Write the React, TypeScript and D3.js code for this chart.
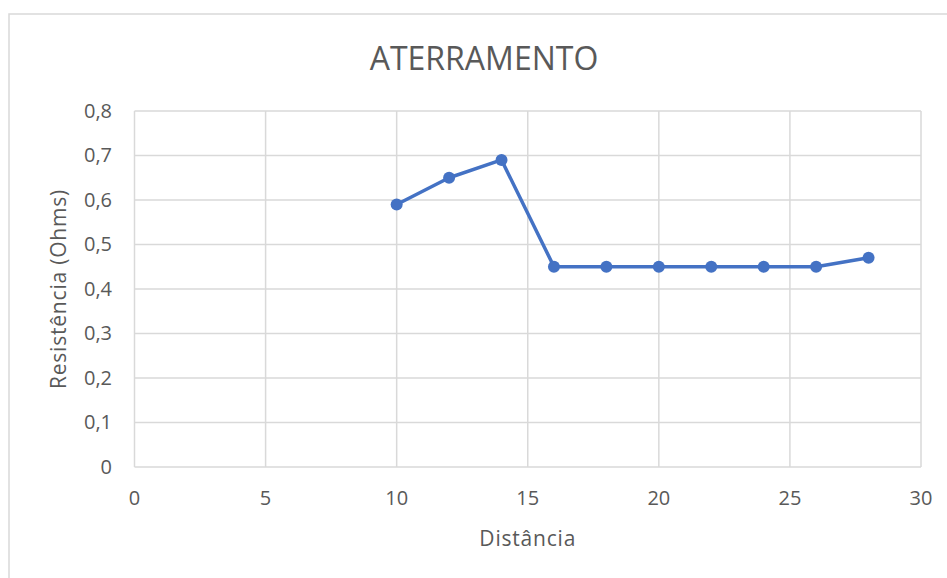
import React from "react";
import * as d3 from "d3";

const distances = [10, 12, 14, 16, 18, 20, 22, 24, 26, 28];
const resistances = [0.59, 0.65, 0.69, 0.45, 0.45, 0.45, 0.45, 0.45, 0.45, 0.47];
const xTicks = [0, 5, 10, 15, 20, 25, 30];
const yTicks = [0, 0.1, 0.2, 0.3, 0.4, 0.5, 0.6, 0.7, 0.8];
const title = "ATERRAMENTO";
const xTitle = "Distância";
const yTitle = "Resistência (Ohms)";

export default function App() {
  const W = 947, H = 578;
  const left = 134.5, right = 921, top = 111, bottom = 467;
  const x = d3.scaleLinear().domain([0, 30]).range([left, right]);
  const y = d3.scaleLinear().domain([0, 0.8]).range([bottom, top]);
  const line = d3.line<number>().x((_, i) => x(distances[i])).y((d) => y(d));
  const font = "'Open Sans', 'Noto Sans', sans-serif";
  const fmt = (v: number) => (v === 0 ? "0" : v.toFixed(1).replace(".", ","));
  return (
    <svg width={W} height={H} style={{ position: "absolute", left: 0, top: 0 }}>
      <rect x={0} y={0} width={W} height={H} fill="#fff" />
      <rect x={9} y={14} width={W + 20} height={H + 20} fill="#fff" stroke="#d9d9d9" strokeWidth={1.5} />
      <text x={484} y={70} textAnchor="middle" fontFamily={font} fontSize={32} fill="#595959">{title}</text>
      {yTicks.map((t) => (
        <line key={"gy" + t} x1={left} x2={right} y1={y(t)} y2={y(t)} stroke="#d9d9d9" strokeWidth={1.5} />
      ))}
      {xTicks.map((t) => (
        <line key={"gx" + t} x1={x(t)} x2={x(t)} y1={top} y2={bottom} stroke="#d9d9d9" strokeWidth={1.5} />
      ))}
      {yTicks.map((t) => (
        <text key={"ly" + t} x={112} y={y(t) + 6.5} textAnchor="end" fontFamily={font} fontSize={20} fill="#595959">{fmt(t)}</text>
      ))}
      {xTicks.map((t) => (
        <text key={"lx" + t} x={x(t)} y={505} textAnchor="middle" fontFamily={font} fontSize={20} fill="#595959">{t}</text>
      ))}
      <text x={(left + right) / 2} y={546} textAnchor="middle" fontFamily={font} fontSize={21} letterSpacing={0.8} fill="#595959">{xTitle}</text>
      <text transform={`translate(66, ${(top + bottom) / 2}) rotate(-90)`} textAnchor="middle" fontFamily={font} fontSize={21} letterSpacing={0.8} fill="#595959">{yTitle}</text>
      <path d={line(resistances) || ""} fill="none" stroke="#4472C4" strokeWidth={3.5} strokeLinejoin="round" />
      {resistances.map((v, i) => (
        <circle key={"p" + i} cx={x(distances[i])} cy={y(v)} r={6} fill="#4472C4" />
      ))}
    </svg>
  );
}
